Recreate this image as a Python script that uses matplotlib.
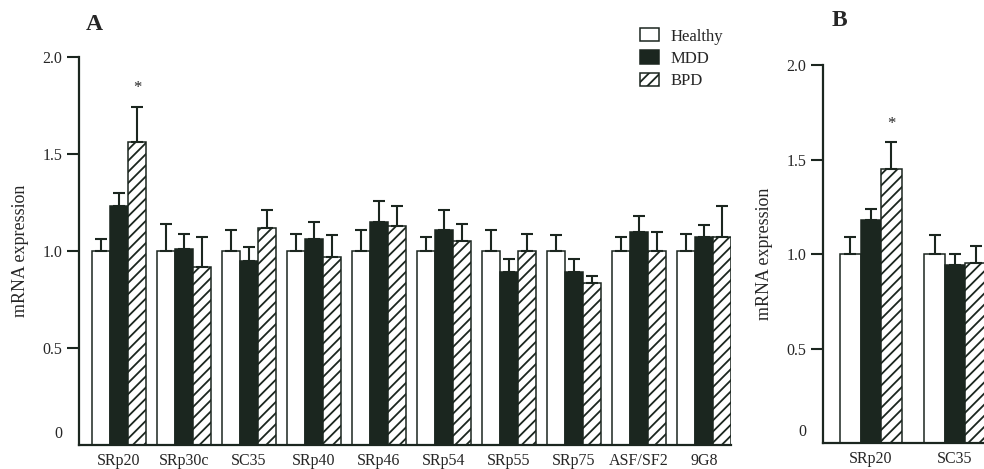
import matplotlib
matplotlib.use("Agg")
import matplotlib.pyplot as plt
import numpy as np

plt.rcParams["font.family"] = ["Liberation Serif", "DejaVu Serif"]
plt.rcParams["hatch.linewidth"] = 1.3

# panel A: all SR proteins
genes_a = ["SRp20", "SRp30c", "SC35", "SRp40", "SRp46", "SRp54",
           "SRp55", "SRp75", "ASF/SF2", "9G8"]
healthy_a = [1.00, 1.00, 1.00, 1.00, 1.00, 1.00, 1.00, 1.00, 1.00, 1.00]
healthy_a_err = [0.06, 0.14, 0.11, 0.09, 0.11, 0.07, 0.11, 0.08, 0.07, 0.09]
mdd_a = [1.23, 1.01, 0.95, 1.06, 1.15, 1.11, 0.89, 0.89, 1.10, 1.07]
mdd_a_err = [0.07, 0.075, 0.07, 0.09, 0.11, 0.10, 0.07, 0.07, 0.08, 0.065]
bpd_a = [1.56, 0.92, 1.12, 0.97, 1.13, 1.05, 1.00, 0.835, 1.00, 1.07]
bpd_a_err = [0.18, 0.15, 0.09, 0.11, 0.10, 0.09, 0.09, 0.035, 0.10, 0.16]
sig_a = [True, False, False, False, False, False, False, False, False, False]

# panel B
genes_b = ["SRp20", "SC35"]
healthy_b = [1.00, 1.00]
healthy_b_err = [0.09, 0.10]
mdd_b = [1.18, 0.94]
mdd_b_err = [0.06, 0.06]
bpd_b = [1.45, 0.95]
bpd_b_err = [0.14, 0.09]
sig_b = [True, False]

grupos = ["Healthy", "MDD", "BPD"]
yticks = [0.5, 1.0, 1.5, 2.0]

DARK = "#1b261f"
TXT = "#262626"
estilos = [
    {"facecolor": "white", "hatch": None},
    {"facecolor": DARK, "hatch": None},
    {"facecolor": "white", "hatch": "///"},
]


def panel(ax, genes, medias, errores, sig, width, xlim):
    x = np.arange(len(genes))
    for i, (vals, errs) in enumerate(zip(medias, errores)):
        pos = x + (i - 1) * width
        ax.bar(pos, vals, width, color=estilos[i]["facecolor"],
               hatch=estilos[i]["hatch"], edgecolor=DARK, linewidth=1.1,
               label=grupos[i], zorder=2)
        ax.errorbar(pos, vals, yerr=[np.zeros(len(vals)), errs], fmt="none",
                    ecolor=DARK, elinewidth=1.5, capsize=4, capthick=1.5,
                    zorder=3)
    # star over BPD bar where significant
    for j, s in enumerate(sig):
        if s:
            ax.text(x[j] + width, medias[2][j] + errores[2][j] + 0.1, "*",
                    ha="center", va="center", fontsize=12, color=TXT)

    ax.set_xlim(*xlim)
    ax.set_ylim(0, 2.0)
    ax.set_xticks(x)
    ax.set_xticklabels(genes, fontsize=11.5, color=TXT)
    ax.tick_params(axis="x", length=0, pad=6)
    ax.set_yticks(yticks)
    ax.set_yticklabels(["%.1f" % v for v in yticks], fontsize=11.5, color=TXT)
    ax.tick_params(axis="y", length=9, width=1.5, pad=3, color=DARK)
    ax.annotate("0", xy=(0, 0), xycoords=ax.get_yaxis_transform(),
                xytext=(-12, 8), textcoords="offset points",
                ha="right", va="center", fontsize=11.5, color=TXT)
    for lado in ["top", "right"]:
        ax.spines[lado].set_visible(False)
    for lado in ["left", "bottom"]:
        ax.spines[lado].set_linewidth(1.6)
        ax.spines[lado].set_color(DARK)
    ax.set_ylabel("mRNA expression", fontsize=13, color=TXT, labelpad=10)


fig = plt.figure(figsize=(9.84, 4.69), dpi=100)

ax_a = fig.add_axes([0.0803, 0.0512, 0.6626, 0.8273])
panel(ax_a, genes_a, [healthy_a, mdd_a, bpd_a],
      [healthy_a_err, mdd_a_err, bpd_a_err], sig_a, 0.277, (-0.615, 9.415))

ax_b = fig.add_axes([0.8364, 0.0554, 0.1636, 0.8060])
panel(ax_b, genes_b, [healthy_b, mdd_b, bpd_b],
      [healthy_b_err, mdd_b_err, bpd_b_err], sig_b, 0.244, (-0.571, 1.345))

fig.text(0.0955, 0.948, "A", fontsize=17, fontweight="bold", color=TXT,
         ha="center", va="center")
fig.text(0.853, 0.957, "B", fontsize=17, fontweight="bold", color=TXT,
         ha="center", va="center")

h, l = ax_a.get_legend_handles_labels()
fig.legend(h, l, loc="upper left", bbox_to_anchor=(0.65, 0.94),
           bbox_transform=fig.transFigure, frameon=False, fontsize=12,
           handlelength=1.15, handleheight=0.85, handletextpad=0.7,
           labelspacing=0.35, borderpad=0, borderaxespad=0,
           labelcolor=TXT)

fig.savefig("out.png", dpi=100)
